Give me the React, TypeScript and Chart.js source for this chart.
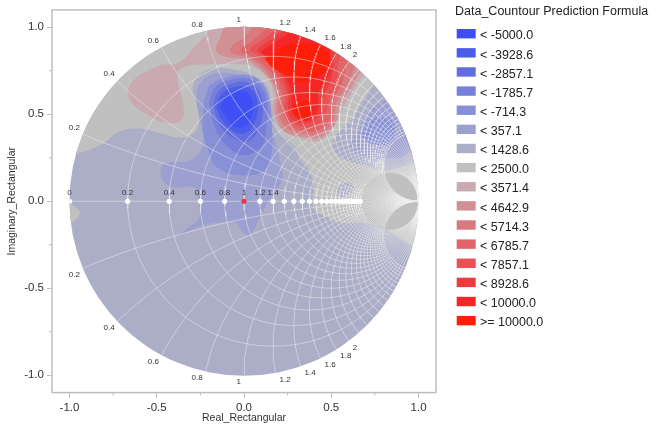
import { useEffect, useRef } from "react";
import { Chart, registerables } from "chart.js";

Chart.register(...registerables);

const FONT = '"Liberation Sans", Arial, sans-serif';

// axis
const axisTicks = [-1, -0.5, 0, 0.5, 1];
const minorTicks = [-0.75, -0.25, 0.25, 0.75];

// smith grid
const resistanceLevels = [0.2, 0.4, 0.6, 0.8, 1, 1.2, 1.4, 1.6, 1.8, 2, 2.2, 2.4, 2.6, 2.8, 3, 3.2, 3.4, 3.6, 3.8, 4, 4.2, 4.4, 4.6, 4.8, 5];
const reactanceLevels = [0.2, 0.4, 0.6, 0.8, 1, 1.2, 1.4, 1.6, 1.8, 2, 2.2, 2.4, 2.6, 2.8, 3, 3.2, 3.4, 3.6, 3.8, 4, 4.2, 4.4, 4.6, 4.8, 5];
const rimLabels = [0.2, 0.4, 0.6, 0.8, 1, 1.2, 1.4, 1.6, 1.8, 2];
const axisPointLabels = [0, 0.2, 0.4, 0.6, 0.8, 1, 1.2, 1.4];
const axisPoints = [0, 0.2, 0.4, 0.6, 0.8, 1, 1.2, 1.4, 1.6, 1.8, 2, 2.2, 2.4, 2.6, 2.8, 3, 3.2, 3.4, 3.6, 3.8, 4, 4.2, 4.4, 4.6, 4.8, 5];
const highlightedPoint = 1;

// legend
const legendTitle = "Data_Countour Prediction Formula";
const legendLabels = ["< -5000.0", "< -3928.6", "< -2857.1", "< -1785.7", "< -714.3", "< 357.1", "< 1428.6", "< 2500.0", "< 3571.4", "< 4642.9", "< 5714.3", "< 6785.7", "< 7857.1", "< 8928.6", "< 10000.0", ">= 10000.0"];
const legendColors = ["rgb(62,80,245)", "rgb(76,92,234)", "rgb(98,110,224)", "rgb(118,128,218)", "rgb(136,144,214)", "rgb(156,160,208)", "rgb(172,174,200)", "rgb(192,192,192)", "rgb(200,170,176)", "rgb(208,144,148)", "rgb(216,122,126)", "rgb(224,100,104)", "rgb(232,82,84)", "rgb(238,60,62)", "rgb(246,38,38)", "rgb(255,30,10)"];

// contour outlines (real, imaginary)
const bandBase = [[-1.1, -1.1], [1.1, -1.1], [1.1, 1.1], [-1.1, 1.1]];
const band2500 = [[-1.08, 0.276], [-0.954, 0.276], [-0.805, 0.333], [-0.725, 0.397], [-0.61, 0.42], [-0.479, 0.391], [-0.381, 0.368], [-0.307, 0.379], [-0.261, 0.437], [-0.266, 0.552], [-0.295, 0.64], [-0.26, 0.72], [-0.175, 0.764], [-0.037, 0.753], [0.077, 0.713], [0.135, 0.655], [0.152, 0.598], [0.169, 0.483], [0.192, 0.408], [0.29, 0.31], [0.315, 0.253], [0.381, 0.161], [0.398, 0.08], [0.398, -0.04], [0.479, -0.092], [0.536, -0.121], [0.685, -0.126], [0.799, -0.155], [0.966, -0.253], [1.126, -0.28], [1.126, 1.126], [-1.08, 1.126]];
const band2500Left = [[-0.997, -0.011], [-0.94, -0.063], [-0.997, -0.132], [-1.054, -0.132], [-1.054, -0.011]];
const band1428Right = [[0.748, 0.672], [0.685, 0.58], [0.622, 0.477], [0.564, 0.42], [0.507, 0.333], [0.553, 0.253], [0.685, 0.207], [0.822, 0.178], [0.971, 0.218], [1.126, 0.236], [1.126, 0.672]];
const band1428Patch = [[0.55, 0.09], [0.6, 0.11], [0.63, 0.07], [0.6, 0.035], [0.55, 0.03], [0.53, 0.06]];
const band357Right = [[0.811, 0.58], [0.725, 0.523], [0.656, 0.408], [0.61, 0.322], [0.668, 0.264], [0.811, 0.247], [0.926, 0.264], [0.954, 0.351]];
const band714Right = [[0.736, 0.477], [0.679, 0.379], [0.754, 0.322], [0.851, 0.351], [0.851, 0.465]];
const band357 = [[-0.481, 0.178], [-0.453, 0.218], [-0.309, 0.235], [-0.235, 0.321], [-0.252, 0.465], [-0.272, 0.6], [-0.245, 0.69], [-0.165, 0.735], [-0.04, 0.729], [0.063, 0.683], [0.115, 0.608], [0.138, 0.476], [0.178, 0.35], [0.206, 0.235], [0.218, 0.121], [0.16, 0.034], [0.103, -0.069], [0.034, -0.195], [-0.006, -0.178], [-0.046, -0.121], [-0.12, -0.121], [-0.252, -0.144], [-0.367, -0.195], [-0.309, -0.144], [-0.264, -0.109], [-0.252, -0.052], [-0.264, 0.006], [-0.281, 0.08], [-0.407, 0.08], [-0.464, 0.121]];
const band714 = [[-0.229, 0.58], [-0.189, 0.672], [-0.074, 0.718], [0.034, 0.723], [0.109, 0.672], [0.149, 0.563], [0.16, 0.408], [0.16, 0.293], [0.12, 0.178], [-0.023, 0.149], [-0.155, 0.195], [-0.206, 0.293], [-0.235, 0.408]];
const band1785 = [[-0.201, 0.563], [-0.166, 0.654], [-0.074, 0.7], [0.023, 0.706], [0.097, 0.66], [0.132, 0.563], [0.126, 0.408], [0.103, 0.321], [0.006, 0.264], [-0.092, 0.31], [-0.16, 0.408]];
const band2857 = [[-0.178, 0.551], [-0.143, 0.637], [-0.069, 0.677], [0.017, 0.683], [0.08, 0.643], [0.109, 0.551], [0.086, 0.419], [0.023, 0.344], [-0.069, 0.367], [-0.138, 0.436]];
const band3928 = [[-0.16, 0.54], [-0.126, 0.62], [-0.063, 0.654], [0.006, 0.66], [0.057, 0.626], [0.08, 0.551], [0.057, 0.442], [0.006, 0.39], [-0.069, 0.408], [-0.126, 0.465]];
const band5000 = [[-0.138, 0.54], [-0.109, 0.597], [-0.063, 0.626], [-0.011, 0.637], [0.034, 0.608], [0.052, 0.551], [0.034, 0.465], [-0.006, 0.425], [-0.063, 0.436], [-0.109, 0.494]];
const band3571 = [[-0.2, 1.05], [-0.209, 0.971], [-0.266, 0.908], [-0.381, 0.793], [-0.479, 0.782], [-0.633, 0.695], [-0.662, 0.598], [-0.576, 0.511], [-0.433, 0.448], [-0.352, 0.477], [-0.352, 0.58], [-0.381, 0.724], [-0.347, 0.77], [-0.175, 0.787], [-0.02, 0.787], [0.037, 0.782], [0.135, 0.707], [0.169, 0.621], [0.163, 0.506], [0.226, 0.408], [0.364, 0.351], [0.438, 0.351], [0.513, 0.425], [0.57, 0.54], [0.628, 0.638], [0.685, 0.724], [0.708, 0.736], [0.811, 0.81], [0.811, 1.126], [-0.2, 1.126]];
const band4642 = [[-0.1, 1.039], [-0.138, 0.936], [-0.16, 0.867], [-0.109, 0.832], [0.006, 0.815], [0.08, 0.769], [0.143, 0.706], [0.183, 0.62], [0.178, 0.505], [0.235, 0.399], [0.361, 0.367], [0.441, 0.367], [0.521, 0.442], [0.55, 0.557], [0.619, 0.66], [0.67, 0.752], [0.779, 0.924], [0.779, 1.125], [-0.1, 1.125]];
const band5714 = [[0.08, 1.039], [-0.006, 0.936], [-0.063, 0.901], [-0.074, 0.855], [0.023, 0.827], [0.092, 0.781], [0.155, 0.706], [0.195, 0.62], [0.195, 0.511], [0.246, 0.42], [0.361, 0.385], [0.435, 0.385], [0.504, 0.445], [0.53, 0.568], [0.596, 0.677], [0.63, 0.763], [0.722, 0.924], [0.722, 1.125], [0.08, 1.125]];
const band6785 = [[0.178, 1.039], [0.046, 0.918], [-0.017, 0.867], [0.034, 0.838], [0.109, 0.786], [0.166, 0.723], [0.216, 0.62], [0.218, 0.522], [0.258, 0.442], [0.35, 0.402], [0.424, 0.408], [0.487, 0.46], [0.512, 0.58], [0.56, 0.677], [0.596, 0.798], [0.693, 0.953], [0.693, 1.125], [0.178, 1.125]];
const band7857 = [[0.252, 1.039], [0.103, 0.924], [0.034, 0.872], [0.063, 0.85], [0.126, 0.798], [0.183, 0.735], [0.235, 0.626], [0.235, 0.534], [0.258, 0.465], [0.344, 0.425], [0.424, 0.442], [0.47, 0.511], [0.493, 0.603], [0.533, 0.695], [0.55, 0.838], [0.636, 0.982], [0.636, 1.125], [0.252, 1.125]];
const band8928 = [[0.309, 1.039], [0.149, 0.924], [0.074, 0.867], [0.103, 0.85], [0.149, 0.798], [0.201, 0.74], [0.252, 0.631], [0.252, 0.534], [0.269, 0.476], [0.344, 0.448], [0.407, 0.471], [0.447, 0.522], [0.458, 0.608], [0.504, 0.712], [0.521, 0.855], [0.607, 1.01], [0.607, 1.125], [0.309, 1.125]];
const band10000 = [[0.367, 1.039], [0.178, 0.913], [0.097, 0.855], [0.138, 0.832], [0.172, 0.786], [0.223, 0.74], [0.269, 0.637], [0.275, 0.551], [0.281, 0.5], [0.338, 0.465], [0.39, 0.476], [0.424, 0.534], [0.424, 0.614], [0.49, 0.74], [0.499, 0.878], [0.579, 1.01], [0.579, 1.125], [0.367, 1.125]];
const bandTop = [[0.12, 0.821], [0.246, 0.895], [0.378, 0.907], [0.476, 0.855], [0.493, 0.798], [0.435, 0.723], [0.321, 0.683], [0.246, 0.723], [0.166, 0.769]];
const bandTopLower = [[0.304, 0.563], [0.367, 0.58], [0.393, 0.536], [0.37, 0.49], [0.321, 0.48], [0.285, 0.5], [0.285, 0.54]];

// paint order: [legend index, outline]
const contourLayers: [number, number[][]][] = [
  [6, bandBase],
  [7, band2500],
  [7, band2500Left],
  [6, band1428Right],
  [6, band1428Patch],
  [5, band357Right],
  [4, band714Right],
  [5, band357],
  [4, band714],
  [3, band1785],
  [2, band2857],
  [1, band3928],
  [0, band5000],
  [8, band3571],
  [9, band4642],
  [10, band5714],
  [11, band6785],
  [12, band7857],
  [13, band8928],
  [14, band10000],
  [15, bandTop],
  [15, bandTopLower],
];

// smith chart mapping, impedance to reflection coefficient
function gamma(r: number, x: number) {
  const d = (r + 1) * (r + 1) + x * x;
  return { x: (r * r + x * x - 1) / d, y: (2 * x) / d };
}

// each grid curve is its own dataset so the strokes pile up towards the right end
function gridCurves() {
  const curves: { x: number; y: number }[][] = [];
  resistanceLevels.forEach((r) => {
    const c = r / (r + 1);
    const rad = 1 / (r + 1);
    const pts = [];
    for (let i = 0; i <= 120; i++) {
      const a = (i / 120) * 2 * Math.PI;
      pts.push({ x: c + rad * Math.cos(a), y: rad * Math.sin(a) });
    }
    curves.push(pts);
  });
  [0, ...reactanceLevels, ...reactanceLevels.map((v) => -v)].forEach((v) => {
    const pts = [];
    for (let i = 0; i <= 70; i++) {
      const s = i / 70;
      pts.push(s === 1 ? { x: 1, y: 0 } : gamma(s / (1 - s), v));
    }
    curves.push(pts);
  });
  return curves;
}

const smithFurniture = {
  id: "smithFurniture",
  beforeDatasetsDraw(chart: any) {
    const { ctx, scales } = chart;
    const cx = scales.x.getPixelForValue(0);
    const cy = scales.y.getPixelForValue(0);
    const rad = scales.x.getPixelForValue(1) - cx;
    ctx.save();
    ctx.beginPath();
    ctx.arc(cx, cy, rad, 0, Math.PI * 2);
    ctx.clip();
  },
  afterDatasetsDraw(chart: any) {
    const { ctx, scales, chartArea } = chart;
    ctx.restore();

    // frame and minor ticks
    ctx.save();
    ctx.strokeStyle = "rgb(190,190,190)";
    ctx.lineWidth = 1.5;
    ctx.strokeRect(chartArea.left, chartArea.top, chartArea.right - chartArea.left, chartArea.bottom - chartArea.top);
    ctx.lineWidth = 1;
    ctx.beginPath();
    minorTicks.forEach((v) => {
      const px = scales.x.getPixelForValue(v);
      ctx.moveTo(px, chartArea.bottom);
      ctx.lineTo(px, chartArea.bottom + 3);
      const py = scales.y.getPixelForValue(v);
      ctx.moveTo(chartArea.left, py);
      ctx.lineTo(chartArea.left - 3, py);
    });
    ctx.stroke();

    // rim and axis labels
    ctx.fillStyle = "#333";
    ctx.font = `8px ${FONT}`;
    ctx.textBaseline = "middle";
    rimLabels.forEach((v) => {
      [v, -v].forEach((x) => {
        const g = gamma(0, x);
        const px = scales.x.getPixelForValue(g.x);
        const py = scales.y.getPixelForValue(g.y);
        ctx.textAlign = v <= 1 ? "right" : "left";
        ctx.fillText(String(v), px + (v <= 1 ? -3 : 4), py + (x > 0 ? -7 : 7));
      });
    });
    ctx.textAlign = "center";
    axisPointLabels.forEach((r) => {
      const g = gamma(r, 0);
      ctx.fillText(String(r), scales.x.getPixelForValue(g.x), scales.y.getPixelForValue(0) - 8);
    });

    // legend panel
    ctx.textAlign = "left";
    ctx.fillStyle = "#222";
    ctx.font = `12.5px ${FONT}`;
    ctx.fillText(legendTitle, 455, 12);
    legendLabels.forEach((label, i) => {
      const top = 29 + i * 19.13;
      ctx.fillStyle = legendColors[i];
      ctx.fillRect(456.7, top, 19, 9.4);
      ctx.fillStyle = "#222";
      ctx.fillText(label, 480, top + 7);
    });
    ctx.restore();
  },
};

export default function App() {
  const canvasRef = useRef<HTMLCanvasElement | null>(null);

  useEffect(() => {
    if (!canvasRef.current) return;
    document.body.style.margin = "0";

    const layers = contourLayers.map(([level, outline], i) => ({
      data: [...outline, outline[0]].map(([x, y]) => ({ x, y })),
      showLine: true,
      fill: "shape",
      tension: 0.4,
      borderWidth: 0,
      pointRadius: 0,
      backgroundColor: legendColors[level],
      order: 100 + contourLayers.length - i,
    }));

    const grid = gridCurves().map((data) => ({
      data,
      showLine: true,
      fill: false,
      borderWidth: 0.9,
      borderColor: "rgba(238,238,238,0.55)",
      pointRadius: 0,
      order: 2,
    }));

    const chart = new Chart(canvasRef.current, {
      type: "scatter",
      data: {
        datasets: [
          ...layers,
          ...grid,
          {
            data: axisPoints.map((r) => gamma(r, 0)),
            pointRadius: 2.6,
            borderWidth: 0,
            pointBackgroundColor: axisPoints.map((r) => (r === highlightedPoint ? "rgb(235,50,70)" : "#fff")),
            order: 1,
          },
        ],
      },
      options: {
        responsive: false,
        animation: false,
        layout: { padding: { top: 9.4, right: 225 } },
        plugins: {
          legend: { display: false },
          tooltip: { enabled: false },
        },
        scales: {
          x: {
            type: "linear",
            min: -1.1,
            max: 1.1,
            afterBuildTicks: (s: any) => {
              s.ticks = axisTicks.map((value) => ({ value }));
            },
            afterFit: (s: any) => {
              s.height = 41.4;
            },
            grid: { drawOnChartArea: false, tickLength: 5, tickColor: "rgb(190,190,190)" },
            border: { display: false },
            ticks: { padding: 3, maxRotation: 0, color: "#333", font: { family: FONT, size: 11.5 }, callback: (v: any) => Number(v).toFixed(1) },
            title: { display: true, text: "Real_Rectangular", color: "#333", font: { family: FONT, size: 10.5 }, padding: { top: 0, bottom: 9.5 } },
          },
          y: {
            type: "linear",
            min: -1.1,
            max: 1.1,
            afterBuildTicks: (s: any) => {
              s.ticks = axisTicks.map((value) => ({ value }));
            },
            afterFit: (s: any) => {
              s.width = 52;
            },
            grid: { drawOnChartArea: false, tickLength: 5, tickColor: "rgb(190,190,190)" },
            border: { display: false },
            ticks: { padding: 3, color: "#333", font: { family: FONT, size: 11.5 }, callback: (v: any) => Number(v).toFixed(1) },
            title: { display: true, text: "Imaginary_Rectangular", color: "#333", font: { family: FONT, size: 10.5 }, padding: { top: 6, bottom: 0 } },
          },
        },
      },
      plugins: [smithFurniture],
    } as any);

    return () => chart.destroy();
  }, []);

  return <canvas ref={canvasRef} width={661} height={434} style={{ display: "block" }} />;
}
